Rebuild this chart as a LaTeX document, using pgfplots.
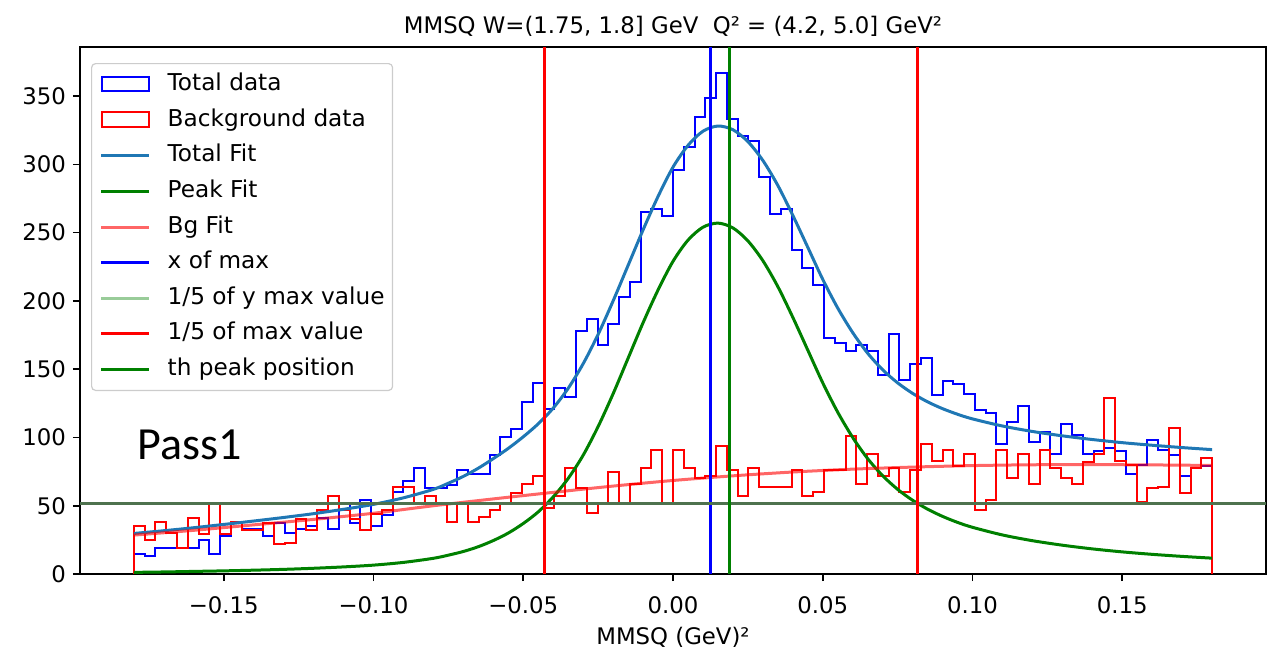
\documentclass[border=0pt]{standalone}
\usepackage{fontspec}
\setmainfont{DejaVu Sans}
\newfontfamily\passfont{Carlito}
\usepackage{pgfplots}
\pgfplotsset{compat=1.18}
\usepackage{pgfplotstable}

\definecolor{fitblue}{HTML}{1F77B4}
\definecolor{mplgreen}{HTML}{008000}
\definecolor{hline}{RGB}{78,114,78}
\definecolor{hlinelegend}{RGB}{153,204,153}
\definecolor{bgfit}{RGB}{255,102,102}
\definecolor{legframe}{RGB}{204,204,204}

% bin left edge, total counts, background counts (100 bins, width 0.0036)
\pgfplotstableread{
edge total bg
-0.1800 0 0
-0.1800 15 35
-0.1764 13 25
-0.1728 19 38
-0.1692 19 30
-0.1656 19 19
-0.1620 19 41
-0.1584 25 29
-0.1548 15 51
-0.1512 28 29
-0.1476 37 38
-0.1440 33 32
-0.1404 33 32
-0.1368 28 37
-0.1332 37 22
-0.1296 30 23
-0.1260 33 40
-0.1224 35 32
-0.1188 41 47
-0.1152 33 57
-0.1116 51 47
-0.1080 37 40
-0.1044 54 32
-0.1008 35 44
-0.0972 43 47
-0.0936 60 64
-0.0900 68 64
-0.0864 78 52
-0.0828 63 57
-0.0792 63 52
-0.0756 65 38
-0.0720 76 52
-0.0684 73 38
-0.0648 73 42
-0.0612 87 47
-0.0576 100 51
-0.0540 106 59
-0.0504 126 66
-0.0468 140 72
-0.0432 121 48
-0.0396 136 57
-0.0360 130 78
-0.0324 178 63
-0.0288 187 45
-0.0252 168 52
-0.0216 183 75
-0.0180 203 52
-0.0144 214 66
-0.0108 265 78
-0.0072 267 91
-0.0036 262 52
0.0000 296 91
0.0036 313 78
0.0072 335 70
0.0108 349 72
0.0144 367 94
0.0180 333 76
0.0216 321 57
0.0252 317 78
0.0288 291 64
0.0324 264 64
0.0360 267 64
0.0396 237 76
0.0432 224 57
0.0468 212 60
0.0504 173 76
0.0540 169 76
0.0576 163 101
0.0612 168 66
0.0648 163 88
0.0684 146 72
0.0720 176 78
0.0756 142 60
0.0792 154 76
0.0828 158 95
0.0864 131 83
0.0900 141 91
0.0936 139 79
0.0972 132 88
0.1008 120 47
0.1044 118 54
0.1080 95 91
0.1116 111 70
0.1152 123 88
0.1188 97 66
0.1224 104 91
0.1260 88 78
0.1296 110 70
0.1332 102 66
0.1368 88 82
0.1404 90 88
0.1440 92 129
0.1476 90 83
0.1512 73 80
0.1548 80 53
0.1584 98 63
0.1620 91 64
0.1656 87 107
0.1692 72 59
0.1728 78 78
0.1764 79 85
0.1800 0 0
}\hist

\begin{document}
\begin{tikzpicture}[x=1pt,y=1pt]
\useasboundingbox (-40,-37) rectangle (593.5,287);
\begin{axis}[
  at={(0,0)}, anchor=south west,
  scale only axis, width=593pt, height=263.5pt,
  xmin=-0.198, xmax=0.198, ymin=0, ymax=386,
  font=\fontsize{11.4}{13}\selectfont,
  /pgf/number format/assume math mode=true,
  xtick={-0.15,-0.10,-0.05,0,0.05,0.10,0.15},
  xticklabels={−0.15,−0.10,−0.05,0.00,0.05,0.10,0.15},
  xticklabel style={yshift=-4.5pt},
  ytick={0,50,...,350},
  tick align=outside, tick pos=left,
  major tick length=3.5pt,
  every tick/.style={black, line width=0.8pt},
  axis line style={black, line width=0.8pt},
  title={MMSQ W=(1.75, 1.8] GeV\ \ Q² = (4.2, 5.0] GeV²},
  title style={at={(0.5,1)}, anchor=base, yshift=0.5pt, inner sep=0pt},
  xlabel={MMSQ (GeV)²},
  xlabel style={at={(0.5,0)}, anchor=base, yshift=-35pt, inner sep=0pt},
  legend cell align=left,
  legend style={at={(0.0093,0.9696)}, anchor=north west,
    draw=legframe, line width=0.6pt, rounded corners=2pt, fill=white,
    font=\fontsize{11.6}{13}\selectfont,
    inner xsep=4pt, inner ysep=5pt, row sep=6.8pt,
    nodes={inner sep=0pt, text height=8.5pt, text depth=2.5pt}},
]
% legend entries
\addlegendimage{legend image code/.code={\draw[blue, line width=1pt, sharp corners] (0.5pt,-3.4pt) -- (0.5pt,3.9pt) -- (24pt,3.9pt) -- (24pt,-3.4pt) -- cycle; \path (33pt,0pt);}}
\addlegendentry{Total data}
\addlegendimage{legend image code/.code={\draw[red, line width=1pt, sharp corners] (0.5pt,-3.4pt) -- (0.5pt,3.9pt) -- (24pt,3.9pt) -- (24pt,-3.4pt) -- cycle; \path (33pt,0pt);}}
\addlegendentry{Background data}
\addlegendimage{legend image code/.code={\draw[fitblue, line width=1.5pt] (0pt,0pt) -- (24pt,0pt); \path (33pt,0pt);}}
\addlegendentry{Total Fit}
\addlegendimage{legend image code/.code={\draw[mplgreen, line width=1.5pt] (0pt,0pt) -- (24pt,0pt); \path (33pt,0pt);}}
\addlegendentry{Peak Fit}
\addlegendimage{legend image code/.code={\draw[bgfit, line width=1.5pt] (0pt,0pt) -- (24pt,0pt); \path (33pt,0pt);}}
\addlegendentry{Bg Fit}
\addlegendimage{legend image code/.code={\draw[blue, line width=1.5pt] (0pt,0pt) -- (24pt,0pt); \path (33pt,0pt);}}
\addlegendentry{x of max}
\addlegendimage{legend image code/.code={\draw[hlinelegend, line width=1.5pt] (0pt,0pt) -- (24pt,0pt); \path (33pt,0pt);}}
\addlegendentry{1/5 of y max value}
\addlegendimage{legend image code/.code={\draw[red, line width=1.5pt] (0pt,0pt) -- (24pt,0pt); \path (33pt,0pt);}}
\addlegendentry{1/5 of max value}
\addlegendimage{legend image code/.code={\draw[mplgreen, line width=1.5pt] (0pt,0pt) -- (24pt,0pt); \path (33pt,0pt);}}
\addlegendentry{th peak position}

% histograms
\addplot[forget plot, const plot, blue, line width=1pt] table[x=edge, y=total] {\hist};
\addplot[forget plot, const plot, red, line width=1pt] table[x=edge, y=bg] {\hist};

% total fit
\addplot[forget plot, smooth, fitblue, line width=1.5pt] coordinates {
(-0.18,29.7) (-0.17,31.7) (-0.16,33.9) (-0.15,36.3) (-0.14,38.8) (-0.13,41.4)
(-0.12,44.2) (-0.11,47.4) (-0.10,51) (-0.09,55.8) (-0.08,62)
(-0.075,66.5) (-0.07,71.5) (-0.065,77.5) (-0.06,84.5) (-0.055,92) (-0.05,100.5)
(-0.045,110) (-0.04,121.5) (-0.035,136) (-0.03,154) (-0.025,175.5) (-0.02,200)
(-0.015,226) (-0.01,252) (-0.005,276.5) (0,298) (0.005,313.9) (0.01,324.3)
(0.015,328.1) (0.02,325.4) (0.025,316.7) (0.03,302.9) (0.035,284.6) (0.04,262.7)
(0.045,239.3) (0.05,215.8) (0.055,194.8) (0.06,176.8) (0.065,161.7) (0.07,149.6)
(0.075,140) (0.08,132.3) (0.085,126.1) (0.09,121.1) (0.095,117) (0.10,113.6)
(0.11,108.4) (0.12,104.4) (0.13,101.2) (0.14,98.5) (0.15,96.2) (0.16,94.3)
(0.17,92.6) (0.18,91.1)
};
% peak fit
\addplot[forget plot, smooth, mplgreen, line width=1.5pt] coordinates {
(-0.18,1.2) (-0.17,1.5) (-0.16,1.9) (-0.15,2.3) (-0.14,2.8) (-0.13,3.4) (-0.12,4.2)
(-0.11,5.2) (-0.10,6.5) (-0.09,8.5) (-0.08,11.5)
(-0.075,13.8) (-0.07,16.5) (-0.065,20) (-0.06,24.5) (-0.055,30) (-0.05,37)
(-0.045,45.5) (-0.04,56.5) (-0.035,70) (-0.03,87) (-0.025,108) (-0.02,132)
(-0.015,158) (-0.01,184) (-0.005,208) (0,229) (0.005,244.5) (0.01,254) (0.015,257)
(0.02,253.5) (0.025,244) (0.03,229.5) (0.035,210.5) (0.04,188) (0.045,164)
(0.05,140) (0.055,118.5) (0.06,100) (0.065,84.5) (0.07,72) (0.075,62) (0.08,54)
(0.085,47.5) (0.09,42.2) (0.095,37.8) (0.10,34.2)
(0.11,28.6) (0.12,24.4) (0.13,21.1) (0.14,18.4) (0.15,16.2) (0.16,14.4) (0.17,12.9) (0.18,11.6)
};
% background fit
\addplot[forget plot, smooth, red, opacity=0.6, line width=1.5pt] coordinates {
(-0.18,28.5) (-0.16,32) (-0.14,36) (-0.12,40) (-0.10,44.5) (-0.08,50) (-0.06,55)
(-0.04,59.8) (-0.02,64.4) (0,68.5) (0.02,71.9) (0.04,74.7) (0.06,76.8) (0.08,78.3)
(0.10,79.4) (0.12,80) (0.14,80.1) (0.16,79.9) (0.18,79.5)
};

% x of max
\addplot[forget plot, blue, line width=1.5pt] coordinates {(0.0124,0) (0.0124,386)};
% 1/5 of y max value
\addplot[forget plot, hline, line width=1.5pt] coordinates {(-0.198,51.4) (0.198,51.4)};
% 1/5 of max value
\addplot[forget plot, red, line width=1.5pt] coordinates {(-0.0428,0) (-0.0428,386)};
\addplot[forget plot, red, line width=1.5pt] coordinates {(0.0815,0) (0.0815,386)};
% th peak position
\addplot[forget plot, mplgreen, line width=1.5pt] coordinates {(0.019,0) (0.019,386)};

\node[anchor=base west, inner sep=0pt, font=\passfont\fontsize{23}{23}\selectfont]
  at (axis cs:-0.179,84) {Pass1};
\end{axis}
\end{tikzpicture}
\end{document}
